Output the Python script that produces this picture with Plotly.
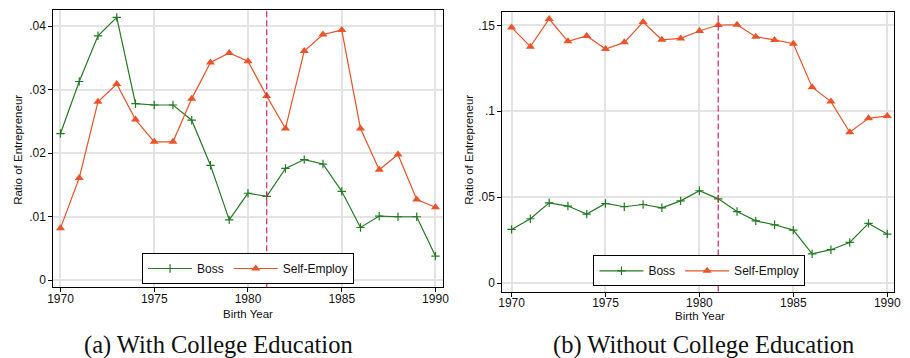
import plotly.graph_objects as go

years = list(range(1970, 1991))

boss_college = [0.0231, 0.0313, 0.0385, 0.0414, 0.0278, 0.0276, 0.0276, 0.0252, 0.0181, 0.0095,
                0.0137, 0.0132, 0.0176, 0.0190, 0.0183, 0.0140, 0.0083, 0.0101, 0.0100, 0.0100, 0.0038]
self_college = [0.0082, 0.0161, 0.0281, 0.0309, 0.0253, 0.0218, 0.0218, 0.0286, 0.0343, 0.0358,
                0.0345, 0.0290, 0.0239, 0.0361, 0.0387, 0.0394, 0.0239, 0.0174, 0.0198, 0.0127, 0.0115]

boss_nocollege = [0.0312, 0.0374, 0.0467, 0.0448, 0.0401, 0.0463, 0.0444, 0.0457, 0.0438, 0.0478,
                  0.0537, 0.0490, 0.0416, 0.0362, 0.0339, 0.0308, 0.0170, 0.0194, 0.0236, 0.0347, 0.0285]
self_nocollege = [0.1488, 0.1376, 0.1537, 0.1407, 0.1438, 0.1362, 0.1401, 0.1519, 0.1416, 0.1424,
                  0.1467, 0.1502, 0.1503, 0.1434, 0.1415, 0.1393, 0.1140, 0.1056, 0.0878, 0.0959, 0.0973]

x_ticks = [1970, 1975, 1980, 1985, 1990]
y_ticks_a = [0, 0.01, 0.02, 0.03, 0.04]
y_labels_a = ["0", ".01", ".02", ".03", ".04"]
y_ticks_b = [0, 0.05, 0.1, 0.15]
y_labels_b = ["0", ".05", ".1", ".15"]
cutoff_year = 1981

GREEN = "#237a23"
ORANGE = "#ea5428"
W, H = 910, 358
SANS = "Liberation Sans, Arial"

fig = go.Figure()

def add_panel(boss, selfe, xa, ya, leg):
    fig.add_trace(go.Scatter(
        x=years, y=boss, name="Boss", mode="lines+markers", xaxis=xa, yaxis=ya, legend=leg,
        line=dict(color=GREEN, width=1.2),
        marker=dict(symbol="cross-thin", size=6, line=dict(color=GREEN, width=1.2), color=GREEN)))
    fig.add_trace(go.Scatter(
        x=years, y=selfe, name="Self-Employ", mode="lines+markers", xaxis=xa, yaxis=ya, legend=leg,
        line=dict(color=ORANGE, width=1.2),
        marker=dict(symbol="triangle-up", size=8, color=ORANGE)))

add_panel(boss_college, self_college, "x", "y", "legend")
add_panel(boss_nocollege, self_nocollege, "x2", "y2", "legend2")

axis_common = dict(
    showline=True, linecolor="black", linewidth=1, mirror=True,
    ticks="outside", ticklen=4, tickcolor="black", tickwidth=1,
    showgrid=True, gridcolor="#e3e3e3", gridwidth=1.5, zeroline=False,
    tickfont=dict(family=SANS, size=12, color="#111"),
)

legend_common = dict(orientation="h", xanchor="center", yanchor="bottom",
                     bgcolor="white", bordercolor="black", borderwidth=1,
                     font=dict(family=SANS, size=12, color="#111"),
                     itemwidth=44, tracegroupgap=0)

fig.update_layout(
    width=W, height=H, margin=dict(l=0, r=0, t=0, b=0),
    paper_bgcolor="white", plot_bgcolor="white",
    font=dict(family=SANS, size=12, color="#111"),
    xaxis=dict(domain=[48 / W, 443 / W], range=[1969.62, 1990.41], tickvals=x_ticks, anchor="y",
               ticklabelstandoff=-4, **axis_common),
    yaxis=dict(domain=[1 - 287.2 / H, 1 - 10 / H], range=[-0.0011, 0.04256], tickvals=y_ticks_a,
               ticktext=y_labels_a, anchor="x", **axis_common),
    xaxis2=dict(domain=[503 / W, 900.3 / W], range=[1969.51, 1990.38], tickvals=x_ticks, anchor="y2",
                ticklabelstandoff=-4, **axis_common),
    yaxis2=dict(domain=[1 - 291.6 / H, 1 - 12.3 / H], range=[-0.0050, 0.1576], tickvals=y_ticks_b,
                ticktext=y_labels_b, anchor="x2", **axis_common),
    legend=dict(x=245.3 / W, y=1 - 284 / H, **legend_common),
    legend2=dict(x=702.7 / W, y=1 - 286.3 / H, **legend_common),
    showlegend=True,
)

for xa, ya in (("x", "y"), ("x2", "y2")):
    fig.add_shape(type="line", x0=cutoff_year, x1=cutoff_year, xref=xa, y0=0, y1=1,
                  yref=ya + " domain", line=dict(color="#d8235a", width=1.2, dash="6px,3px"), layer="above")

annots = [
    dict(text="Ratio of Entrepreneur", x=12 / W, y=1 - 150 / H, textangle=-90),
    dict(text="Ratio of Entrepreneur", x=469 / W, y=1 - 150 / H, textangle=-90),
    dict(text="Birth Year", x=245 / W, y=1 - 313.5 / H),
    dict(text="Birth Year", x=703 / W, y=1 - 316 / H),
]
for a in annots:
    fig.add_annotation(xref="paper", yref="paper", showarrow=False, xanchor="center", yanchor="middle",
                       font=dict(family=SANS, size=11.5, color="#111"), **a)

for txt, xc in (("(a) With College Education", 215), ("(b) Without College Education", 707)):
    fig.add_annotation(text=txt, x=xc / W, y=1 - 345 / H, xref="paper", yref="paper", showarrow=False,
                       xanchor="center", yanchor="middle",
                       font=dict(family="Liberation Serif, Times New Roman", size=24.5, color="#111"))

fig.write_html("out.html")
